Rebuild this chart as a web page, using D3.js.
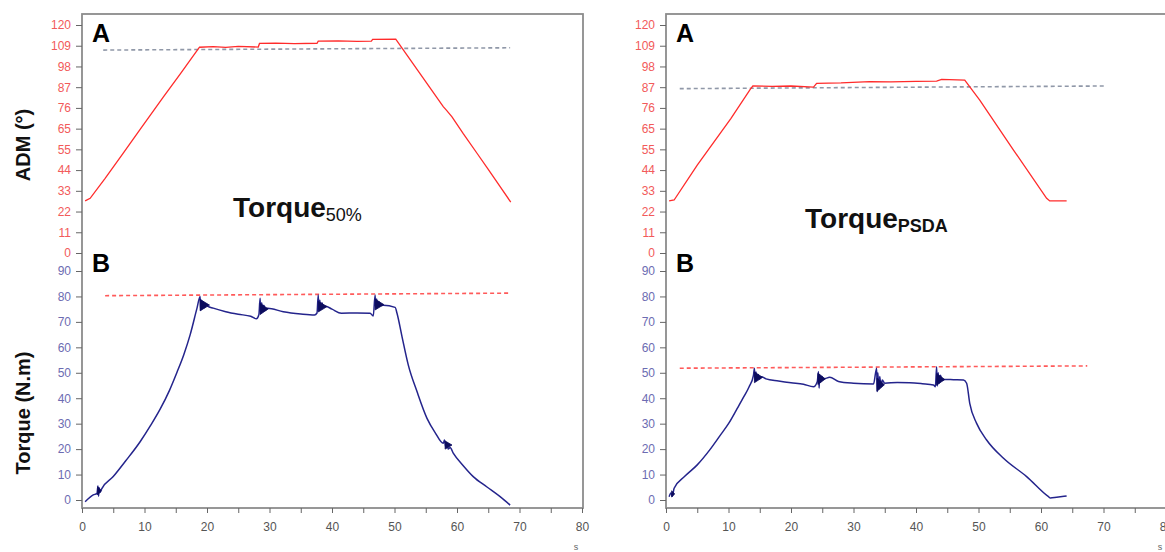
<!doctype html>
<html>
<head>
  <meta charset="utf-8">
  <title>ADM and Torque</title>
  <style>
    html, body { margin: 0; padding: 0; background: #fff; }
    svg { display: block; font-family: "Liberation Sans", Arial, sans-serif; }
  </style>
</head>
<body>
  <svg id="chart" width="1165" height="552"></svg>

  <script src="https://d3js.org/d3.v7.min.js"></script>

  <script>
    // ---- data (time in s, ADM in degrees, torque in N.m) ----
    var admTickValues = [0, 10.91, 21.82, 32.73, 43.64, 54.55, 65.45, 76.36, 87.27, 98.18, 109.09, 120];
    var admTickLabels = ['0', '11', '22', '33', '44', '55', '65', '76', '87', '98', '109', '120'];
    var torqueTicks = [0, 10, 20, 30, 40, 50, 60, 70, 80, 90];
    var timeTicks = [0, 5, 10, 15, 20, 25, 30, 35, 40, 45, 50, 55, 60, 65, 70, 75, 80];

    var adm50 = [[0.5, 27.4], [1.3, 28.8], [3.7, 39.3], [6.6, 52.6], [9.3, 65.1], [13, 82], [15.7, 94.2],
      [18.8, 108.3], [21, 108.6], [23, 108.2], [25, 108.7], [28.2, 108.4], [28.4, 110.3], [31, 110.5],
      [34, 110.2], [37.6, 110.4], [37.8, 111.5], [41, 111.6], [44, 111.4], [46.3, 111.5], [46.5, 112.4],
      [50.2, 112.5], [52, 104.1], [54, 94.8], [56, 85.5], [57.8, 77], [58.3, 75.2], [59.2, 71.7],
      [61, 62.8], [63.2, 52.5], [65, 44], [66.9, 34.9], [68.6, 26.8]];

    var torque50 = [[0.5, -0.7], [1.8, 2], [2.4, 2.6], [2.55, 5.5], [2.65, 1.5], [2.75, 4.8], [2.9, 3],
      [3.1, 4.2], [5, 9.2], [7, 15.4], [9.3, 22.9], [11, 29.4], [12.5, 35.7], [14, 43.1], [15.2, 50.2],
      [16.3, 57.2], [17.3, 64.9], [18.4, 75.4],
      [18.9, 80], [19.0, 74.5], [19.15, 78.5], [19.3, 75.2], [19.45, 77.8], [19.6, 75.6], [19.8, 77],
      [20.1, 76.2], [21, 75.4], [23, 74], [25, 73], [27, 72.2], [27.9, 71.2],
      [28.3, 72.8], [28.5, 79.3], [28.6, 73.2], [28.75, 77.5], [28.9, 74], [29.1, 76.5], [29.3, 74.6],
      [29.7, 75.4], [32.2, 74], [35, 73.1], [37.2, 72.7],
      [37.6, 73.5], [37.8, 80.6], [37.9, 74.5], [38.05, 78.5], [38.2, 75.2], [38.4, 77.5], [38.6, 75.8],
      [39, 76.1], [40, 75], [41.5, 73.4], [44, 73.5], [46.1, 73.4], [46.6, 72.3],
      [46.9, 80.6], [47.0, 75.5], [47.15, 79], [47.3, 76], [47.5, 78], [47.7, 76.4], [48.2, 76.5],
      [50.1, 75.7], [50.4, 73.4], [51.2, 64.2], [52.2, 53.1], [53.6, 42.6], [55.2, 32.1], [56.5, 26.5],
      [57.8, 22.3], [58.0, 23.6], [58.2, 20.8], [58.4, 22.4], [58.6, 20], [58.9, 20.6], [59.4, 18.4],
      [61, 13.5], [62.6, 9.2], [64.8, 5.1], [66.9, 1.3], [68.5, -2]];

    var admPsda = [[0.5, 27.4], [1.3, 27.9], [5, 46.3], [10.4, 70.9], [13.5, 86.3], [13.9, 87.9],
      [17, 87.7], [20, 87.9], [23.6, 87.3], [24.1, 89.3], [28, 89.5], [32.6, 90.2], [36, 90.1],
      [40, 90.3], [43.3, 90.5], [44.1, 91.4], [47.8, 91], [50.2, 80.5], [55.6, 54.2], [60.9, 28.8],
      [61.4, 27.4], [64.1, 27.4]];

    var torquePsda = [[0.5, 1.3], [0.8, 2.8], [1.0, 1.5], [1.3, 4.6], [3, 9.3], [5, 13.8], [7, 19.7],
      [8.7, 25.5], [10, 30], [11.4, 36], [12.5, 40.8], [13.3, 44.5], [14, 49.1],
      [14.15, 51.8], [14.25, 47], [14.4, 50.3], [14.55, 47.3], [14.75, 49.3], [14.95, 47.6],
      [15.3, 48.4], [16, 47.6], [18, 46.8], [20, 46.1], [22, 45.5], [23.6, 44.5],
      [24.2, 46.5], [24.4, 50.4], [24.5, 44], [24.6, 49.2], [24.75, 46.4], [24.9, 48.6], [25.2, 47.6],
      [26.2, 48.2], [27.6, 46.6], [30, 45.9], [33.2, 45.6],
      [33.7, 51.8], [33.8, 42.6], [33.9, 50], [34.05, 43.5], [34.2, 48.5], [34.4, 44.5], [34.6, 47.2],
      [35, 45.9], [37, 46.2], [39, 46.1], [41, 45.7], [42.8, 45.2],
      [43.1, 44.5], [43.3, 52.4], [43.4, 44.8], [43.55, 50], [43.7, 46], [43.9, 49], [44.2, 47],
      [44.6, 47.4], [46, 47.3], [47.6, 47.2], [48.1, 45.9], [48.6, 38], [49.7, 30.1], [51.3, 23.6],
      [54, 16.4], [57.7, 9.2], [61.2, 1.3], [61.5, 0.8], [62.5, 1.1], [64.1, 1.6]];

    // oscillation bursts on the torque traces: [time, level, half-amplitude, duration]
    var bursts50 = [[2.5, 3.6, 1.6, 0.6], [18.9, 76.6, 2.2, 1.5], [28.5, 75.1, 2.2, 1.3],
      [37.8, 76, 2.1, 1.4], [46.9, 76.8, 2.1, 1.4], [58.1, 21.6, 1.6, 1.1]];
    var burstsPsda = [[0.9, 2.4, 1.2, 0.5], [14.15, 48.2, 2.1, 1.3], [24.3, 47.6, 2.2, 1.2],
      [33.75, 45.3, 2.6, 1.2], [43.3, 47.4, 2.3, 1.3]];

    // dashed reference lines
    var refAdm50 = [[3.4, 106.8], [68.5, 108]];
    var refTorque50 = [[3.7, 80.3], [68.5, 81.3]];
    var refAdmPsda = [[2.2, 86.5], [70.2, 87.9]];
    var refTorquePsda = [[2.2, 51.8], [67.4, 52.7]];

    var panels = [
      { x0: 82, adm: adm50, torque: torque50, bursts: bursts50, refA: refAdm50, refB: refTorque50,
        title: 'Torque', sub: '50%', subBold: false, tx: 151, ty: 217, titles: true },
      { x0: 666, adm: admPsda, torque: torquePsda, bursts: burstsPsda, refA: refAdmPsda, refB: refTorquePsda,
        title: 'Torque', sub: 'PSDA', subBold: true, tx: 139, ty: 228, titles: false }
    ];

    var svg = d3.select('#chart');

    var yA = d3.scaleLinear().domain([0, 120]).range([253, 25]);
    var yB = d3.scaleLinear().domain([0, 90]).range([500, 271]);
    var frameTop = 14, frameBottom = 508;

    function styleAxis(ax, color) {
      ax.select('.domain').remove();
      ax.selectAll('line').attr('stroke', '#666');
      ax.selectAll('text').attr('fill', color).style('font-size', '12px')
        .style('font-family', '"Liberation Sans", Arial, sans-serif');
    }

    panels.forEach(function(p) {
      var x = d3.scaleLinear().domain([0, 80]).range([p.x0, p.x0 + 500]);
      var g = svg.append('g');

      // frame
      g.append('rect')
        .attr('x', p.x0).attr('y', frameTop)
        .attr('width', 501).attr('height', frameBottom - frameTop)
        .attr('fill', 'none').attr('stroke', '#8c8c8c').attr('stroke-width', 1.8);

      // ADM axis (upper half)
      var axA = g.append('g')
        .attr('transform', 'translate(' + p.x0 + ',0)')
        .call(d3.axisLeft(yA).tickValues(admTickValues)
          .tickFormat(function(d, i) { return admTickLabels[i]; })
          .tickSize(6).tickPadding(5));
      styleAxis(axA, '#f25a5a');

      // torque axis (lower half)
      var axB = g.append('g')
        .attr('transform', 'translate(' + p.x0 + ',0)')
        .call(d3.axisLeft(yB).tickValues(torqueTicks).tickSize(6).tickPadding(5));
      styleAxis(axB, '#6c6cb2');

      // time axis
      var axX = g.append('g')
        .attr('transform', 'translate(0,' + frameBottom + ')')
        .call(d3.axisBottom(x).tickValues(timeTicks)
          .tickFormat(function(d) { return d % 10 === 0 ? d : ''; })
          .tickSize(5).tickPadding(9));
      styleAxis(axX, '#555');

      g.append('text')
        .attr('x', p.x0 + 494).attr('y', 550)
        .attr('text-anchor', 'middle')
        .attr('fill', '#666').style('font-size', '9px')
        .text('s');

      var lineA = d3.line().x(function(d) { return x(d[0]); }).y(function(d) { return yA(d[1]); });
      var lineB = d3.line().x(function(d) { return x(d[0]); }).y(function(d) { return yB(d[1]); });
      var smoothB = d3.line().curve(d3.curveMonotoneX)
        .x(function(d) { return x(d[0]); }).y(function(d) { return yB(d[1]); });

      // dashed reference lines
      g.append('path').datum(p.refA).attr('d', lineA)
        .attr('fill', 'none').attr('stroke', '#9098a8').attr('stroke-width', 1.6)
        .attr('stroke-dasharray', '4,3');
      g.append('path').datum(p.refB).attr('d', lineB)
        .attr('fill', 'none').attr('stroke', '#ff5a5a').attr('stroke-width', 1.6)
        .attr('stroke-dasharray', '4,3');

      // series
      g.append('path').datum(p.adm).attr('d', lineA)
        .attr('fill', 'none').attr('stroke', '#ff2b2b').attr('stroke-width', 1.3);
      g.append('path').datum(p.torque).attr('d', smoothB)
        .attr('fill', 'none').attr('stroke', '#24248c').attr('stroke-width', 1.5)
        .attr('stroke-linejoin', 'round');

      // dark oscillation bursts (right-pointing wedges)
      g.selectAll('path.burst').data(p.bursts).enter().append('path')
        .attr('class', 'burst')
        .attr('d', function(d) {
          return 'M' + x(d[0]) + ',' + yB(d[1] + d[2]) +
            'L' + x(d[0] + d[3]) + ',' + yB(d[1]) +
            'L' + x(d[0]) + ',' + yB(d[1] - d[2]) + 'Z';
        })
        .attr('fill', '#0c0c5e').attr('stroke', '#0c0c5e').attr('stroke-width', 0.8);

      // panel letters
      g.append('text').attr('x', p.x0 + 10).attr('y', 42)
        .style('font-size', '25px').style('font-weight', 'bold').attr('fill', '#000').text('A');
      g.append('text').attr('x', p.x0 + 10).attr('y', 272)
        .style('font-size', '25px').style('font-weight', 'bold').attr('fill', '#000').text('B');

      // condition title with subscript
      var t = g.append('text').attr('x', p.x0 + p.tx).attr('y', p.ty)
        .attr('fill', '#111').style('font-weight', 'bold').style('font-size', '28px');
      t.append('tspan').text(p.title);
      t.append('tspan')
        .attr('dy', 4)
        .style('font-size', '18px')
        .style('font-weight', p.subBold ? 'bold' : 'normal')
        .text(p.sub);

      if (p.titles) {
        svg.append('text')
          .attr('transform', 'translate(30,145) rotate(-90)')
          .attr('text-anchor', 'middle')
          .style('font-size', '20px').style('font-weight', 'bold').attr('fill', '#111')
          .text('ADM (°)');
        svg.append('text')
          .attr('transform', 'translate(30,413) rotate(-90)')
          .attr('text-anchor', 'middle')
          .style('font-size', '20px').style('font-weight', 'bold').attr('fill', '#111')
          .text('Torque (N.m)');
      }
    });
  </script>
</body>
</html>
